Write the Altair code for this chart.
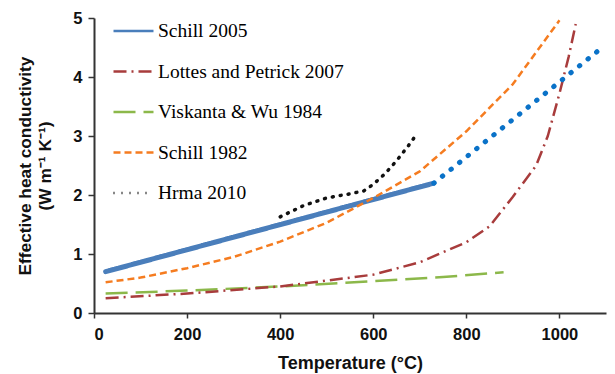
import altair as alt
import pandas as pd

# ---------------- data ----------------
series_names = ["Schill 2005", "Lottes and Petrick 2007", "Viskanta & Wu 1984",
                "Schill 1982", "Hrma 2010"]
series_colors = ["#4a7ebb", "#a83c3c", "#8cb84a", "#f57c20", "#111111"]
series_dashes = [[1, 0], [13, 5, 2, 5], [22, 8], [7, 4], [1, 7]]

schill2005_T = [25, 730]
schill2005_k = [0.70, 2.20]

schill2005_ext_T = [730, 1095]
schill2005_ext_k = [2.20, 4.52]

lottes_T = [25, 200, 400, 500, 600, 700, 800, 850, 900, 950, 975, 1000, 1020, 1035]
lottes_k = [0.25, 0.33, 0.45, 0.55, 0.65, 0.86, 1.20, 1.47, 1.97, 2.50, 3.00, 3.72, 4.35, 4.90]

viskanta_T = [25, 200, 400, 600, 750, 880]
viskanta_k = [0.33, 0.38, 0.45, 0.54, 0.61, 0.69]

schill1982_T = [25, 100, 200, 300, 400, 500, 600, 700, 800, 900, 1000]
schill1982_k = [0.52, 0.60, 0.76, 0.95, 1.21, 1.53, 1.95, 2.40, 3.08, 3.88, 4.96]

hrma_T = [400, 450, 500, 550, 580, 600, 625, 650, 675, 695]
hrma_k = [1.63, 1.82, 1.95, 2.02, 2.07, 2.18, 2.36, 2.58, 2.83, 3.05]

x_ticks = [0, 200, 400, 600, 800, 1000]
y_ticks = [0, 1, 2, 3, 4, 5]
x_title = "Temperature (°C)"
y_title = ["Effective heat conductivity", "(W m\u207b\u00b9 K\u207b\u00b9)"]

# ---------------- tables ----------------
rows = []
for name, T, k in [(series_names[0], schill2005_T, schill2005_k),
                   (series_names[1], lottes_T, lottes_k),
                   (series_names[2], viskanta_T, viskanta_k),
                   (series_names[3], schill1982_T, schill1982_k),
                   (series_names[4], hrma_T, hrma_k)]:
    for i, (t, v) in enumerate(zip(T, k)):
        rows.append({"series": name, "T": t, "k": v, "order": i})
df = pd.DataFrame(rows)
df_ext = pd.DataFrame({"T": schill2005_ext_T, "k": schill2005_ext_k,
                       "order": list(range(len(schill2005_ext_T)))})

# ---------------- scales / axes ----------------
xscale = alt.Scale(domain=[0, 1100], nice=False, zero=False)
yscale = alt.Scale(domain=[0, 5], nice=False)

axis_common = dict(
    domainColor="#333333", domainWidth=2, tickColor="#333333", tickWidth=1.5,
    grid=False, labelFont="Liberation Sans", labelFontWeight="bold",
    labelFontSize=16.5, labelColor="#111111", titleFont="Liberation Sans",
    titleFontWeight="bold", titleColor="#111111",
)
xaxis = alt.Axis(values=x_ticks, format="d", title=x_title, tickSize=5,
                 labelPadding=8, titleFontSize=18, titleBaseline="alphabetic",
                 titleY=55, **axis_common)
yaxis = alt.Axis(values=y_ticks, format="d", title=y_title, tickSize=6,
                 labelPadding=6, titleFontSize=17.3, titleLineHeight=20,
                 titleAngle=270, titleBaseline="bottom", titleAlign="center",
                 titleX=-60, titleY=147.5, **axis_common)

color_scale = alt.Scale(domain=series_names, range=series_colors)
dash_scale = alt.Scale(domain=series_names, range=series_dashes)

legend_kwargs = dict(
    title=None, orient="none", legendX=18, legendY=-8.5, symbolType="stroke",
    symbolSize=1600, symbolStrokeWidth=2.5, labelFont="Liberation Serif",
    labelFontSize=19.5, labelColor="black", labelOffset=3, rowPadding=9.5,
    padding=0, labelLimit=400,
)


def build(use_encode):
    kw = dict(legend_kwargs)
    if use_encode:
        kw["encode"] = {"symbols": {"update": {"strokeCap": {
            "signal": "datum.value === 'Hrma 2010' ? 'round' : 'butt'"}}}}
    legend = alt.Legend(**kw)

    def series_layer(name, width, cap):
        return alt.Chart(df).transform_filter(
            alt.datum.series == name
        ).mark_line(strokeWidth=width, strokeCap=cap, strokeJoin="round").encode(
            x=alt.X("T:Q", scale=xscale, axis=xaxis),
            y=alt.Y("k:Q", scale=yscale, axis=yaxis),
            color=alt.Color("series:N", scale=color_scale, legend=legend),
            strokeDash=alt.StrokeDash("series:N", scale=dash_scale, legend=legend),
            order=alt.Order("order:Q"),
        )

    ext = alt.Chart(df_ext).mark_line(
        strokeWidth=5, strokeCap="round", strokeDash=[0.5, 10.5], color="#0a72c8"
    ).encode(
        x=alt.X("T:Q", scale=xscale, axis=xaxis),
        y=alt.Y("k:Q", scale=yscale, axis=yaxis),
        order=alt.Order("order:Q"),
    )

    layers = [
        series_layer(series_names[2], 2.5, "butt"),
        series_layer(series_names[1], 2.5, "butt"),
        series_layer(series_names[0], 5, "round"),
        series_layer(series_names[3], 2.5, "butt"),
        series_layer(series_names[4], 3.5, "round"),
        ext,
    ]
    ch = alt.layer(*layers).properties(
        width=512, height=295,
        autosize=alt.AutoSizeParams(type="none"),
        padding={"left": 94, "top": 18, "right": 9, "bottom": 61},
        background="white",
    ).configure_view(stroke=None)
    return ch


try:
    chart = build(True)
    chart.to_dict()
except Exception:
    chart = build(False)

chart.save("out.html", embed_options={"renderer": "svg", "actions": False})
